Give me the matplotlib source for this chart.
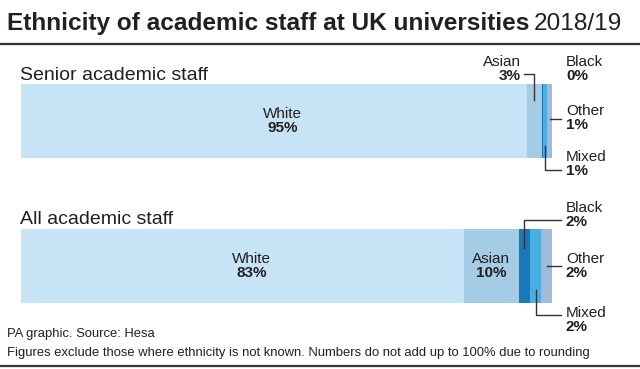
import matplotlib
matplotlib.use('Agg')
import matplotlib.pyplot as plt

# ---- data ----
groups = ['Senior academic staff', 'All academic staff']
categories = ['White', 'Asian', 'Black', 'Mixed', 'Other']
senior_values = [95.2, 2.9, 0.2, 0.8, 0.9]
all_values = [83.4, 10.4, 2.0, 2.2, 2.0]
senior_labels = ['95%', '3%', '0%', '1%', '1%']
all_labels = ['83%', '10%', '2%', '2%', '2%']
colors = ['#c6e4f5', '#a4cce4', '#1878b8', '#4aaee0', '#9fbada']

FONT = ['Liberation Sans', 'DejaVu Sans']
TXT = '#231f20'
LINE = '#333333'
W, H = 640, 369
BAR_L, BAR_R = 21, 552
FS = 11

fig = plt.figure(figsize=(W / 100, H / 100), dpi=100)
ax = fig.add_axes([0, 0, 1, 1])
span = BAR_R - BAR_L
ax.set_xlim(-BAR_L * 100 / span, (W - BAR_L) * 100 / span)
ax.set_ylim(H, 0)
ax.axis('off')


def dx(px):
    return (px - BAR_L) * 100 / span


def two_line(x, y_top_base, name, val, ha='left'):
    ax.text(x, y_top_base, name, fontsize=FS, family=FONT, color=TXT,
            ha=ha, va='baseline')
    ax.text(x, y_top_base + 14, val, fontsize=FS, family=FONT, color=TXT,
            ha=ha, va='baseline', fontweight='bold')


# title
t1 = fig.text(7 / W, 1 - 30 / H, 'Ethnicity of academic staff at UK universities',
              fontsize=17.6, fontweight='bold', family=FONT, color=TXT, va='baseline')
fig.canvas.draw()
bb = t1.get_window_extent()
fig.text((bb.x1 + 4) / W, 1 - 30 / H, '2018/19', fontsize=17.6, family=FONT,
         color=TXT, va='baseline')

ax.axhline(44, color=LINE, lw=1.6)
ax.axhline(366, color=LINE, lw=1.6)

bar_y = [121, 266]
bar_h = 74
group_label_y = [80, 224]
datasets = [senior_values, all_values]
labelsets = [senior_labels, all_labels]
side_x = dx(566)
line_end = dx(561)
inner_shift = 9 * 100 / span

for gi, (vals, labs) in enumerate(zip(datasets, labelsets)):
    yc = bar_y[gi]
    left = 0
    lefts = []
    for v, c in zip(vals, colors):
        ax.barh(yc, v, left=left, height=bar_h, color=c, linewidth=0)
        lefts.append(left)
        left += v
    ax.text(dx(20), group_label_y[gi], groups[gi], fontsize=14, family=FONT,
            color=TXT, va='baseline', ha='left')
    centers = [l + v / 2 for l, v in zip(lefts, vals)]
    # White label inside
    two_line(centers[0] + inner_shift, yc - 3, categories[0], labs[0], ha='center')

    if gi == 0:
        two_line(dx(521), 66, categories[1], labs[1], ha='right')
        ax.plot([dx(524), centers[1], centers[1]], [74, 74, 100], color=LINE, lw=1)
        two_line(side_x, 66, categories[2], labs[2])
        two_line(side_x, 115, categories[4], labs[4])
        ax.plot([centers[4], line_end], [119, 119], color=LINE, lw=1)
        two_line(side_x, 161, categories[3], labs[3])
        ax.plot([centers[3], centers[3], line_end], [146, 170, 170], color=LINE, lw=1)
    else:
        two_line(centers[1], yc - 3, categories[1], labs[1], ha='center')
        two_line(side_x, 212, categories[2], labs[2])
        ax.plot([centers[2], centers[2], line_end], [248, 220, 220], color=LINE, lw=1)
        two_line(side_x, 263, categories[4], labs[4])
        ax.plot([centers[4], line_end], [266, 266], color=LINE, lw=1)
        two_line(side_x, 317, categories[3], labs[3])
        ax.plot([centers[3], centers[3], line_end], [290, 315, 315], color=LINE, lw=1)

fig.text(7 / W, 1 - 337 / H, 'PA graphic. Source: Hesa', fontsize=9.4, family=FONT,
         color=TXT, va='baseline')
fig.text(7 / W, 1 - 356 / H,
         'Figures exclude those where ethnicity is not known. Numbers do not add up to 100% due to rounding',
         fontsize=9.4, family=FONT, color=TXT, va='baseline')

fig.savefig('out.png', dpi=100)
